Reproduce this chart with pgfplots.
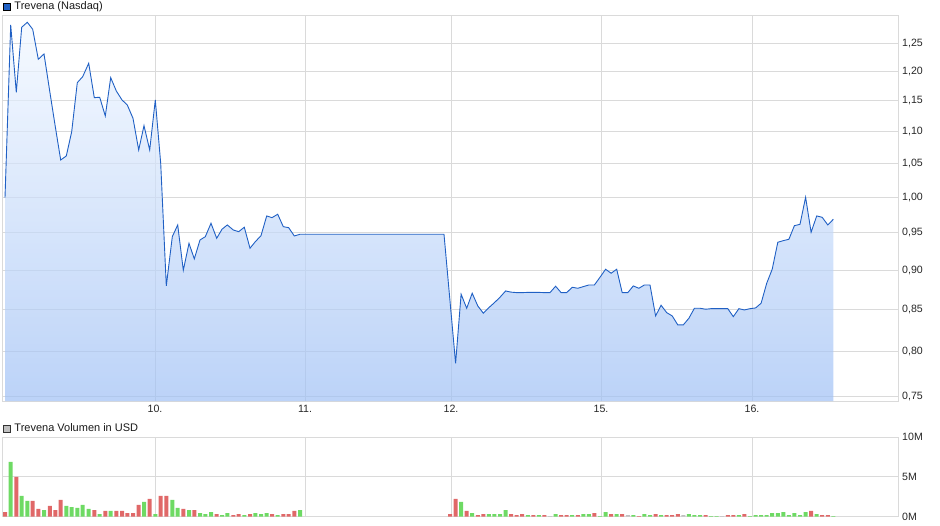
\documentclass[border=0pt]{standalone}
\usepackage{fontspec}
\setmainfont{Liberation Sans}
\usepackage{pgfplots}
\usepackage{pgfplotstable}
\pgfplotsset{compat=1.18}

\definecolor{kurs}{RGB}{32,96,196}
\definecolor{gridc}{RGB}{218,218,218}
\definecolor{volg}{RGB}{110,218,100}
\definecolor{volr}{RGB}{224,104,104}
\definecolor{volx}{RGB}{192,192,192}
\definecolor{filltop}{RGB}{242,248,255}
\definecolor{fillbot}{RGB}{159,192,245}

% Kurs (x = Position in Pixel, y = Kurs in USD)
\pgfplotstableread{
x y
5 0.9995
10.7 1.2836
16.3 1.1644
21.7 1.2793
27.3 1.2886
32.7 1.2756
38.3 1.2214
44 1.2308
49.8 1.1654
55.3 1.1078
60.7 1.0556
66.3 1.0618
71.7 1.0998
77.3 1.1807
82.7 1.1910
88.7 1.2143
94.3 1.1553
99.7 1.1560
105.3 1.1251
110.7 1.1893
116.3 1.1666
122 1.1515
127.3 1.1431
133 1.1213
138.7 1.0710
144 1.1094
149.7 1.0710
155.3 1.1515
160.7 1.0506
166.3 0.8796
172.3 0.9446
177.7 0.9608
183.3 0.8998
189 0.9356
194.3 0.9147
200 0.9401
205.3 0.9446
211 0.9631
216.7 0.9424
222 0.9548
227.3 0.9608
233.3 0.9538
238.7 0.9515
244.3 0.9576
250 0.9289
255.3 0.9378
261 0.9460
266.7 0.9734
272 0.9710
277.7 0.9758
283.3 0.9584
288.7 0.9570
294.3 0.9456
300 0.9479
444 0.9479
455.6 0.7864
461.1 0.8691
466.7 0.8516
472.2 0.8703
477.8 0.8545
483.3 0.8455
488.9 0.8524
494.4 0.8585
500 0.8653
505.6 0.8732
511.1 0.8717
516.7 0.8711
522.2 0.8711
527.8 0.8714
533.3 0.8714
538.9 0.8714
544.4 0.8711
550 0.8711
555.6 0.8792
561.1 0.8711
566.7 0.8711
572.2 0.8779
577.8 0.8766
583.3 0.8787
588.9 0.8808
594.4 0.8808
600 0.8907
605.6 0.9011
611.1 0.8959
616.7 0.9011
622.2 0.8711
627.8 0.8711
633.3 0.8796
638.9 0.8766
644.4 0.8808
650 0.8808
655.6 0.8422
661.1 0.8553
666.7 0.8462
672.2 0.8422
677.8 0.8313
683.3 0.8313
688.9 0.8394
694.4 0.8516
700 0.8516
705.6 0.8504
711.1 0.8511
716.7 0.8511
722.2 0.8511
727.8 0.8511
733.3 0.8413
738.9 0.8511
744.4 0.8495
750 0.8511
755.6 0.8520
761.1 0.8578
766.7 0.8830
772.2 0.9011
777.8 0.9370
783.3 0.9392
788.9 0.9411
794.4 0.9598
800 0.9617
805.6 1.0001
811.1 0.9507
816.7 0.9734
822.2 0.9715
827.8 0.9608
833.3 0.9687
}\kurstab

% Volumen in Mio. USD
\pgfplotstableread{
x v
10.7 6.92
21.7 2.62
27.3 1.98
44 0.84
66.3 1.35
71.7 1.22
77.3 1.10
82.7 1.48
88.7 0.97
99.7 0.34
110.7 0.72
144 1.86
155.3 0.34
172.3 2.11
177.7 1.10
189 0.84
200 0.46
205.3 0.34
211 0.59
222 0.21
227.3 0.46
244.3 0.21
255.3 0.46
261 0.34
266.7 0.46
277.7 0.21
300 0.84
461.1 1.86
472.2 0.46
488.9 0.34
494.4 0.34
500 0.34
505.6 0.84
527.8 0.21
538.9 0.21
555.6 0.34
572.2 0.21
583.3 0.34
588.9 0.34
600 0.08
605.6 0.59
616.7 0.34
633.3 0.21
644.4 0.34
650 0.21
661.1 0.21
688.9 0.34
694.4 0.21
700 0.21
711.1 0.08
716.7 0.08
738.9 0.21
750 0.08
755.6 0.21
761.1 0.21
766.7 0.21
772.2 0.46
777.8 0.46
783.3 0.59
788.9 0.21
794.4 0.46
800 0.21
805.6 0.59
816.7 0.34
833.3 0.08
}\volgreen

\pgfplotstableread{
x v
5 0.59
16.3 5.02
32.7 1.98
38.3 0.97
49.8 1.35
55.3 0.84
60.7 2.11
94.3 0.84
105.3 0.72
116.3 0.72
122 0.72
127.3 0.46
133 0.46
138.7 1.48
149.7 2.24
160.7 2.62
166.3 2.62
183.3 0.97
194.3 0.84
216.7 0.34
233.3 0.21
238.7 0.34
250 0.34
272 0.34
283.3 0.34
288.7 0.34
294.3 0.72
450 0.34
455.6 2.24
466.7 0.72
477.8 0.21
483.3 0.34
511.1 0.34
516.7 0.21
522.2 0.34
533.3 0.21
544.4 0.21
561.1 0.21
566.7 0.21
577.8 0.21
594.4 0.46
611.1 0.34
622.2 0.34
638.9 0.08
655.6 0.34
666.7 0.21
672.2 0.21
677.8 0.34
705.6 0.21
727.8 0.21
733.3 0.21
744.4 0.34
811.1 0.72
822.2 0.21
827.8 0.21
}\volred

\pgfplotstableread{
x v
550 0.08
627.8 0.21
683.3 0.21
722.2 0.08
}\volgray

\pgfplotsset{
  chartbase/.style={
    scale only axis, width=896pt,
    xmin=2.7, xmax=898.7,
    xtick={155,305,451,601,752},
    xmajorgrids, ymajorgrids,
    grid style={gridc, line width=1pt},
    axis line style={gridc, line width=1pt},
    major tick length=0pt,
    yticklabel pos=right,
    tick label style={font=\fontsize{10.6}{12}\selectfont, text=black!85},
    legend style={at={(0,1)}, anchor=west, draw=none, fill=none,
      inner sep=0pt, font=\fontsize{11}{13}\selectfont, text=black!90,
      nodes={inner sep=1pt}},
    legend cell align=left,
  },
}

\begin{document}
\begin{tikzpicture}
\path[use as bounding box] (0pt,0pt) rectangle (940pt,-526pt);

\begin{axis}[chartbase,
  at={(2.7pt,-401pt)}, anchor=south west,
  height=385pt,
  ymode=log, log origin y=infty,
  ymin=0.7446, ymax=1.3004,
  ytick={0.75,0.8,0.85,0.9,0.95,1.0,1.05,1.1,1.15,1.2,1.25},
  yticklabels={{0,75},{0,80},{0,85},{0,90},{0,95},{1,00},{1,05},{1,10},{1,15},{1,20},{1,25}},
  xticklabels={10.,11.,12.,15.,16.},
  xticklabel style={yshift=-1pt},
  legend style={yshift=9.6pt},
]
\addplot[draw=none, top color=filltop, bottom color=fillbot, fill opacity=0.7, forget plot]
  table[x=x, y=y] {\kurstab} \closedcycle;
\addplot[kurs, line width=0.9pt, forget plot] table[x=x, y=y] {\kurstab};
\addlegendimage{legend image code/.code={\draw[fill=kurs, draw=black, line width=0.7pt] (0pt,-3.5pt) rectangle (7pt,3.5pt); \path (10pt,0pt);}}
\addlegendentry{Trevena (Nasdaq)}
\end{axis}

\begin{axis}[chartbase,
  at={(2.7pt,-516.7pt)}, anchor=south west,
  height=79.4pt,
  ymin=0, ymax=10,
  ytick={0,5,10},
  yticklabels={0M,5M,10M},
  xticklabels={},
  legend style={yshift=8.6pt},
]
\addplot[ybar, bar width=4pt, bar shift=0pt, fill=volg, draw=none, forget plot]
  table[x=x, y=v] {\volgreen};
\addplot[ybar, bar width=4pt, bar shift=0pt, fill=volr, draw=none, forget plot]
  table[x=x, y=v] {\volred};
\addplot[ybar, bar width=4pt, bar shift=0pt, fill=volx, draw=none, forget plot]
  table[x=x, y=v] {\volgray};
\addlegendimage{legend image code/.code={\draw[fill=volx, draw=black!80, line width=0.7pt] (0pt,-3.5pt) rectangle (7pt,3.5pt); \path (10pt,0pt);}}
\addlegendentry{Trevena Volumen in USD}
\end{axis}
\end{tikzpicture}
\end{document}
